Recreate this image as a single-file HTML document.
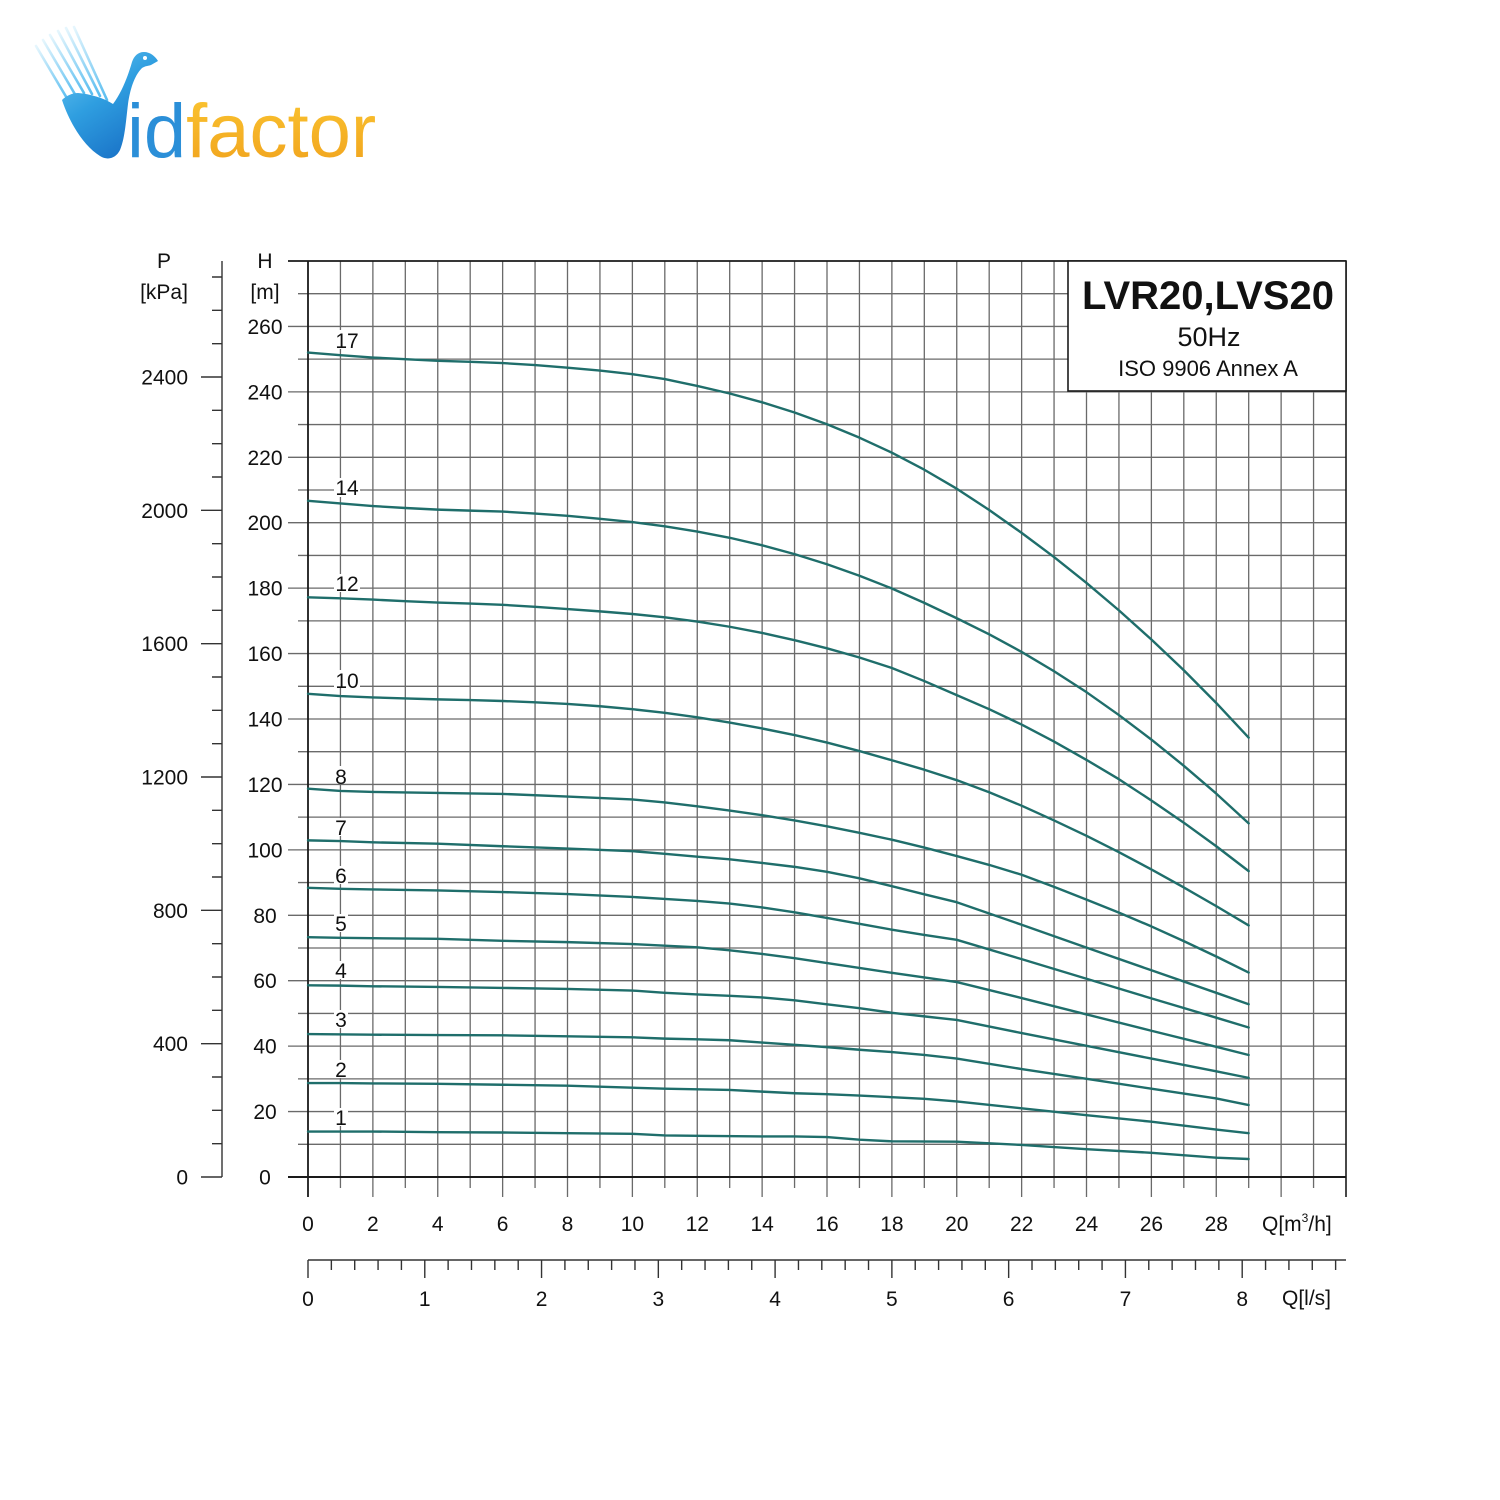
<!DOCTYPE html>
<html>
<head>
<meta charset="utf-8">
<style>
  html, body { margin:0; padding:0; background:#ffffff; }
  body { width:1500px; height:1500px; overflow:hidden; }
  svg { display:block; }
  text { font-family: "Liberation Sans", Arial, sans-serif; fill:#111; }
</style>
</head>
<body>
<svg width="1500" height="1500" viewBox="0 0 1500 1500" xmlns="http://www.w3.org/2000/svg">
  <defs>
    <linearGradient id="vg" x1="0" y1="0" x2="0.6" y2="1">
      <stop offset="0" stop-color="#6cc8f2"/>
      <stop offset="0.5" stop-color="#2f9ee0"/>
      <stop offset="1" stop-color="#1a74c8"/>
    </linearGradient>
    <linearGradient id="og" x1="0" y1="0" x2="0" y2="1">
      <stop offset="0" stop-color="#fbc632"/>
      <stop offset="1" stop-color="#f0a11c"/>
    </linearGradient>
    <linearGradient id="sg" x1="0" y1="0" x2="1" y2="1">
      <stop offset="0" stop-color="#e6f6fd"/>
      <stop offset="1" stop-color="#58bdf0"/>
    </linearGradient>
  </defs>

  <rect x="0" y="0" width="1500" height="1500" fill="#ffffff"/>

  <!-- Logo -->
  <g>
    <g stroke="url(#sg)" stroke-width="2.6" stroke-linecap="round" fill="none">
      <line x1="36" y1="46" x2="68" y2="100"/>
      <line x1="43" y1="40" x2="76" y2="96"/>
      <line x1="50" y1="35" x2="84" y2="93"/>
      <line x1="58" y1="31" x2="92" y2="94"/>
      <line x1="66" y1="28" x2="100" y2="96"/>
      <line x1="74" y1="27" x2="107" y2="100"/>
    </g>
    <path d="M 62,100 C 70,124 84,146 100,156 C 108,161 116,158 120,150 C 125,138 126,120 128,104 C 130,90 134,76 142,68 C 145,66 148,66 151,65 L 158,61 C 155,56 150,52 144,52 C 138,52 134,56 132,62 C 128,76 122,92 113,104 C 104,98 90,94 78,93 C 72,93 66,96 62,100 Z" fill="url(#vg)"/>
    <circle cx="145" cy="58" r="2" fill="#ffffff"/>
    <text x="127" y="157" font-size="76"><tspan style="fill:#2b8fd8">id</tspan><tspan style="fill:url(#og)">factor</tspan></text>
  </g>

  <!-- P axis (kPa) -->
  <g stroke="#333" stroke-width="1.4" fill="none">
    <line x1="222" y1="261" x2="222" y2="1177"/>
    <path d="M201 1177H222 M201 1043.67H222 M201 910.33H222 M201 777H222 M201 643.67H222 M201 510.33H222 M201 377H222"/>
    <path d="M212 1143.67H222 M212 1110.33H222 M212 1077H222 M212 1010.33H222 M212 977H222 M212 943.67H222 M212 877H222 M212 843.67H222 M212 810.33H222 M212 743.67H222 M212 710.33H222 M212 677H222 M212 610.33H222 M212 577H222 M212 543.67H222 M212 477H222 M212 443.67H222 M212 410.33H222 M212 343.67H222 M212 310.33H222 M212 277H222"/>
  </g>
  <g font-size="21" text-anchor="end">
    <text x="188" y="1184.5">0</text>
    <text x="188" y="1051">400</text>
    <text x="188" y="918">800</text>
    <text x="188" y="784.5">1200</text>
    <text x="188" y="651">1600</text>
    <text x="188" y="518">2000</text>
    <text x="188" y="384.5">2400</text>
  </g>
  <g font-size="21" text-anchor="middle">
    <text x="164" y="268">P</text>
    <text x="164" y="299">[kPa]</text>
    <text x="265" y="268">H</text>
    <text x="265" y="299">[m]</text>
  </g>

  <!-- H axis labels -->
  <g font-size="21" text-anchor="middle">
    <text x="265" y="1184.5">0</text>
    <text x="265" y="1119">20</text>
    <text x="265" y="1053.6">40</text>
    <text x="265" y="988.2">60</text>
    <text x="265" y="922.8">80</text>
    <text x="265" y="857.4">100</text>
    <text x="265" y="792">120</text>
    <text x="265" y="726.5">140</text>
    <text x="265" y="661">160</text>
    <text x="265" y="595.6">180</text>
    <text x="265" y="530.2">200</text>
    <text x="265" y="464.8">220</text>
    <text x="265" y="399.4">240</text>
    <text x="265" y="334">260</text>
  </g>

  <!-- Grid -->
  <g stroke="#6a6a6a" stroke-width="1.3" fill="none">
    <path d="M372.88 261V1197 M437.75 261V1197 M502.63 261V1197 M567.5 261V1197 M632.38 261V1197 M697.25 261V1197 M762.13 261V1197 M827 261V1197 M891.88 261V1197 M956.75 261V1197 M1021.63 261V1197 M1086.5 261V1197 M1151.38 261V1197 M1216.25 261V1197 M1281.13 261V1197"/>
    <path d="M340.44 261V1188 M405.31 261V1188 M470.19 261V1188 M535.06 261V1188 M599.94 261V1188 M664.81 261V1188 M729.69 261V1188 M794.56 261V1188 M859.44 261V1188 M924.31 261V1188 M989.19 261V1188 M1054.06 261V1188 M1118.94 261V1188 M1183.81 261V1188 M1248.69 261V1188 M1313.56 261V1188"/>
    <path d="M288 1111.57H1346 M288 1046.14H1346 M288 980.71H1346 M288 915.29H1346 M288 849.86H1346 M288 784.43H1346 M288 719H1346 M288 653.57H1346 M288 588.14H1346 M288 522.71H1346 M288 457.29H1346 M288 391.86H1346 M288 326.43H1346"/>
    <path d="M298 1144.29H1346 M298 1078.86H1346 M298 1013.43H1346 M298 948H1346 M298 882.57H1346 M298 817.14H1346 M298 751.71H1346 M298 686.29H1346 M298 620.86H1346 M298 555.43H1346 M298 490H1346 M298 424.57H1346 M298 359.14H1346 M298 293.71H1346"/>
  </g>
  <!-- Frame -->
  <g stroke="#1a1a1a" fill="none">
    <line x1="288" y1="261" x2="1346" y2="261" stroke-width="1.8"/>
    <line x1="288" y1="1177" x2="1346" y2="1177" stroke-width="2"/>
    <line x1="308" y1="261" x2="308" y2="1197" stroke-width="1.8"/>
    <line x1="1346" y1="261" x2="1346" y2="1197" stroke-width="1.6"/>
  </g>

  <!-- Title box -->
  <rect x="1068" y="261" width="278" height="130" fill="#ffffff" stroke="#1a1a1a" stroke-width="1.6"/>
  <text x="1208" y="309" font-size="40" font-weight="bold" text-anchor="middle">LVR20,LVS20</text>
  <text x="1209" y="346" font-size="27" text-anchor="middle">50Hz</text>
  <text x="1208" y="376" font-size="22" text-anchor="middle">ISO 9906 Annex A</text>

  <!-- Curve labels backgrounds -->
  <g fill="#ffffff">
    <rect x="334" y="330" width="26" height="19"/>
    <rect x="334" y="478" width="26" height="19"/>
    <rect x="334" y="574" width="26" height="18"/>
    <rect x="334" y="670" width="26" height="18"/>
    <rect x="334" y="766" width="14" height="17"/>
    <rect x="334" y="818" width="14" height="18"/>
    <rect x="334" y="866" width="14" height="18"/>
    <rect x="334" y="914" width="14" height="18"/>
    <rect x="334" y="961" width="14" height="18"/>
    <rect x="334" y="1010" width="14" height="18"/>
    <rect x="334" y="1060" width="14" height="18"/>
    <rect x="334" y="1108" width="14" height="18"/>
  </g>
  <g font-size="21" text-anchor="middle">
    <text x="347" y="348">17</text>
    <text x="347" y="495">14</text>
    <text x="347" y="591">12</text>
    <text x="347" y="688">10</text>
    <text x="341" y="784">8</text>
    <text x="341" y="835">7</text>
    <text x="341" y="883">6</text>
    <text x="341" y="931">5</text>
    <text x="341" y="978">4</text>
    <text x="341" y="1027">3</text>
    <text x="341" y="1077">2</text>
    <text x="341" y="1125">1</text>
  </g>

  <!-- Curves -->
  <g transform="translate(308 1177) scale(32.4375 -3.2714)" fill="none" stroke="#1f6e6b" stroke-width="2.4" stroke-linejoin="round" stroke-linecap="round">
    <polyline vector-effect="non-scaling-stroke" points="0,252 1,251.2 2,250.5 3,250 4,249.5 5,249.2 6,248.8 7,248.2 8,247.4 9,246.5 10,245.4 11,243.9 12,241.8 13,239.5 14,236.8 15,233.7 16,230.1 17,226 18,221.4 19,216.2 20,210.4 21,203.9 22,196.9 23,189.5 24,181.6 25,173.2 26,164.3 27,154.9 28,144.9 29,134.3"/>
    <polyline vector-effect="non-scaling-stroke" points="0,206.7 1,205.9 2,205.1 3,204.5 4,204 5,203.7 6,203.4 7,202.8 8,202.1 9,201.2 10,200.2 11,198.9 12,197.3 13,195.4 14,193.1 15,190.4 16,187.3 17,183.8 18,179.9 19,175.5 20,170.8 21,165.9 22,160.5 23,154.6 24,148.2 25,141.2 26,133.7 27,125.7 28,117.2 29,108.1"/>
    <polyline vector-effect="non-scaling-stroke" points="0,177.2 1,176.9 2,176.5 3,176 4,175.6 5,175.3 6,174.9 7,174.3 8,173.6 9,172.9 10,172.1 11,171.1 12,169.8 13,168.2 14,166.3 15,164.1 16,161.6 17,158.8 18,155.6 19,151.6 20,147.3 21,143 22,138.3 23,133.1 24,127.5 25,121.6 26,115.1 27,108.3 28,101.1 29,93.5"/>
    <polyline vector-effect="non-scaling-stroke" points="0,147.7 1,147 2,146.6 3,146.3 4,146 5,145.8 6,145.5 7,145.1 8,144.6 9,143.9 10,143 11,141.9 12,140.5 13,138.9 14,137.1 15,135.1 16,132.8 17,130.2 18,127.4 19,124.5 20,121.3 21,117.6 22,113.5 23,109 24,104.3 25,99.3 26,94 27,88.5 28,82.8 29,76.9"/>
    <polyline vector-effect="non-scaling-stroke" points="0,118.7 1,118 2,117.7 4,117.4 6,117.1 8,116.3 10,115.4 11,114.5 12,113.3 13,112 14,110.6 15,109 16,107.2 17,105.2 18,103.1 19,100.7 20,98.1 21,95.4 22,92.4 23,88.7 24,84.8 25,80.8 26,76.6 27,72.1 28,67.4 29,62.5"/>
    <polyline vector-effect="non-scaling-stroke" points="0,102.9 1,102.7 2,102.3 4,101.9 6,101.1 8,100.4 10,99.6 11,98.8 12,97.9 13,97.1 14,96 15,94.8 16,93.3 17,91.3 18,88.9 19,86.4 20,84 22,77.1 24,70.1 26,63.2 28,56.3 29,52.8"/>
    <polyline vector-effect="non-scaling-stroke" points="0,88.4 1,88.1 2,87.9 4,87.6 6,87.1 8,86.5 10,85.6 11,85 12,84.4 13,83.6 14,82.4 15,80.9 16,79.2 17,77.4 18,75.6 19,74 20,72.5 22,66.6 24,60.6 26,54.6 28,48.7 29,45.7"/>
    <polyline vector-effect="non-scaling-stroke" points="0,73.3 1,73.1 2,73 4,72.8 6,72.2 8,71.8 10,71.2 11,70.7 12,70.2 13,69.3 14,68.2 15,66.9 16,65.4 17,63.9 18,62.4 19,61 20,59.6 22,54.7 24,49.7 26,44.7 28,39.8 29,37.3"/>
    <polyline vector-effect="non-scaling-stroke" points="0,58.6 1,58.5 2,58.3 4,58.1 6,57.8 8,57.5 10,57 11,56.3 12,55.8 13,55.4 14,54.9 15,54 16,52.8 17,51.6 18,50.2 19,49.1 20,48 22,44 24,40.1 26,36.2 28,32.3 29,30.3"/>
    <polyline vector-effect="non-scaling-stroke" points="0,43.7 2,43.5 4,43.4 6,43.3 8,43 10,42.7 11,42.3 12,42.1 13,41.8 14,41.1 15,40.4 16,39.7 17,38.9 18,38.2 19,37.3 20,36.2 22,33 24,30 26,27 28,24 29,22"/>
    <polyline vector-effect="non-scaling-stroke" points="0,28.7 1,28.7 2,28.6 4,28.5 6,28.2 8,27.9 10,27.3 11,27 12,26.8 13,26.6 14,26.1 15,25.6 16,25.3 17,24.9 18,24.4 19,23.9 20,23.1 22,21 24,18.9 26,16.9 28,14.5 29,13.4"/>
    <polyline vector-effect="non-scaling-stroke" points="0,13.9 2,13.9 4,13.7 6,13.6 8,13.4 10,13.2 11,12.7 12,12.6 14,12.4 15,12.4 16,12.2 17,11.4 18,10.9 20,10.8 22,9.8 24,8.5 26,7.4 28,5.9 29,5.5"/>
  </g>

  <!-- Q m3/h labels -->
  <g font-size="21" text-anchor="middle">
    <text x="308" y="1231">0</text>
    <text x="372.88" y="1231">2</text>
    <text x="437.75" y="1231">4</text>
    <text x="502.63" y="1231">6</text>
    <text x="567.5" y="1231">8</text>
    <text x="632.38" y="1231">10</text>
    <text x="697.25" y="1231">12</text>
    <text x="762.13" y="1231">14</text>
    <text x="827" y="1231">16</text>
    <text x="891.88" y="1231">18</text>
    <text x="956.75" y="1231">20</text>
    <text x="1021.63" y="1231">22</text>
    <text x="1086.5" y="1231">24</text>
    <text x="1151.38" y="1231">26</text>
    <text x="1216.25" y="1231">28</text>
  </g>
  <text x="1262" y="1231" font-size="21">Q[m<tspan font-size="12" dy="-9">3</tspan><tspan dy="9">/h]</tspan></text>

  <!-- Q l/s axis -->
  <g stroke="#333" stroke-width="1.4" fill="none">
    <line x1="308" y1="1260" x2="1346" y2="1260"/>
    <path d="M308 1260V1278 M424.78 1260V1278 M541.55 1260V1278 M658.33 1260V1278 M775.1 1260V1278 M891.88 1260V1278 M1008.65 1260V1278 M1125.43 1260V1278 M1242.2 1260V1278"/>
    <path d="M331.36 1260V1270 M354.71 1260V1270 M378.07 1260V1270 M401.42 1260V1270 M448.13 1260V1270 M471.49 1260V1270 M494.84 1260V1270 M518.2 1260V1270 M564.91 1260V1270 M588.26 1260V1270 M611.62 1260V1270 M634.97 1260V1270 M681.68 1260V1270 M705.04 1260V1270 M728.39 1260V1270 M751.75 1260V1270 M798.46 1260V1270 M821.81 1260V1270 M845.17 1260V1270 M868.52 1260V1270 M915.23 1260V1270 M938.59 1260V1270 M961.94 1260V1270 M985.3 1260V1270 M1032.01 1260V1270 M1055.36 1260V1270 M1078.72 1260V1270 M1102.07 1260V1270 M1148.78 1260V1270 M1172.14 1260V1270 M1195.49 1260V1270 M1218.85 1260V1270 M1265.56 1260V1270 M1288.91 1260V1270 M1312.27 1260V1270 M1335.62 1260V1270"/>
  </g>
  <g font-size="21" text-anchor="middle">
    <text x="308" y="1306">0</text>
    <text x="424.78" y="1306">1</text>
    <text x="541.55" y="1306">2</text>
    <text x="658.33" y="1306">3</text>
    <text x="775.1" y="1306">4</text>
    <text x="891.88" y="1306">5</text>
    <text x="1008.65" y="1306">6</text>
    <text x="1125.43" y="1306">7</text>
    <text x="1242.2" y="1306">8</text>
  </g>
  <text x="1282" y="1305" font-size="21">Q[l/s]</text>
</svg>
</body>
</html>
